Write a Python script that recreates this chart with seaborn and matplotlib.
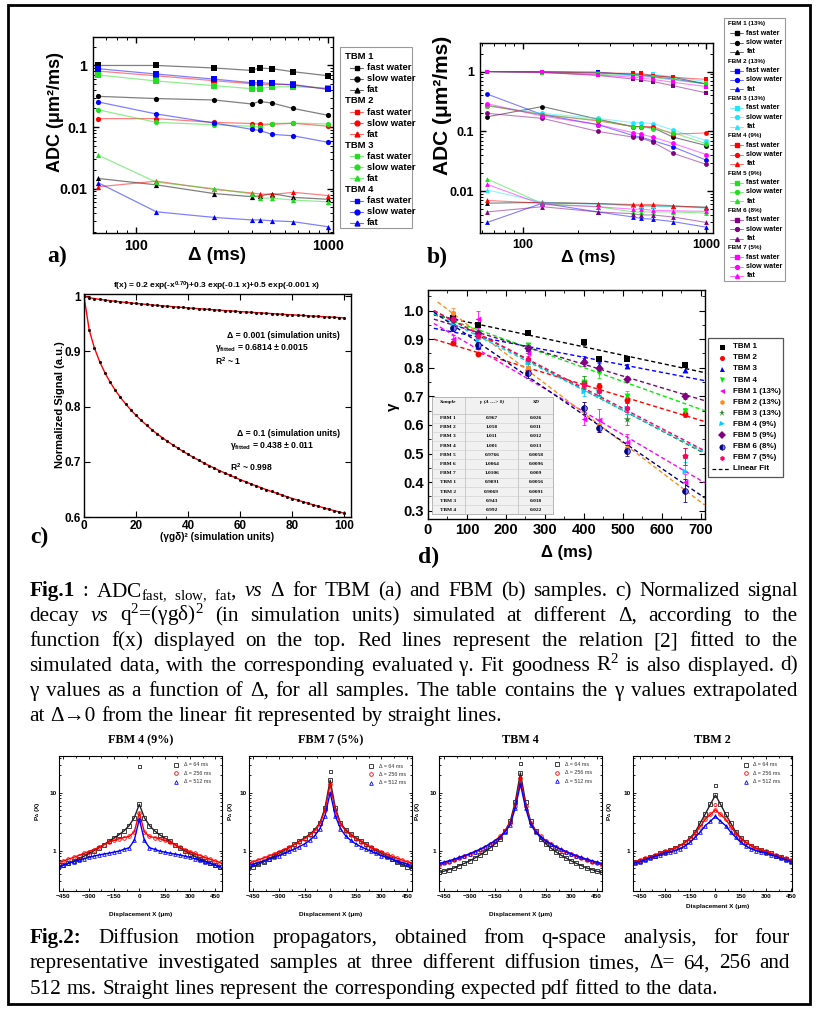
import matplotlib
matplotlib.use("Agg")
import matplotlib.pyplot as plt
import seaborn as sns
from matplotlib.lines import Line2D
from matplotlib.patches import Rectangle
from matplotlib.ticker import LogLocator, NullFormatter, MultipleLocator

sns.set_style("ticks")
plt.rcParams['font.family'] = ['Liberation Sans', 'DejaVu Sans']
plt.rcParams['font.weight'] = 'bold'
plt.rcParams['mathtext.default'] = 'regular'
plt.rcParams.update({'axes.edgecolor': 'black', 'text.color': 'black', 'xtick.color': 'black',
                     'ytick.color': 'black', 'axes.labelcolor': 'black', 'axes.linewidth': 1.0,
                     'xtick.direction': 'in', 'ytick.direction': 'in'})
SERIF = ['Liberation Serif', 'DejaVu Serif']

# ---------------- data: panel a (TBM) / b (FBM) ----------------
DELTA_ADC = [64, 128, 256, 400, 440, 512, 660, 1000]
ADC_KINDS = ["fast water", "slow water", "fat"]
ADC_MARKERS = ["s", "o", "^"]

TBM1_ADC = [[1.0, 1.0, 0.91, 0.83, 0.91, 0.885, 0.79, 0.68],
            [0.315, 0.29, 0.275, 0.237, 0.26, 0.245, 0.2, 0.155],
            [0.0146, 0.0115, 0.0083, 0.0074, 0.0076, 0.0083, 0.0072, 0.0067]]
TBM2_ADC = [[0.81, 0.68, 0.565, 0.505, 0.487, 0.492, 0.492, 0.41],
            [0.137, 0.137, 0.119, 0.114, 0.112, 0.111, 0.115, 0.103],
            [0.0107, 0.0132, 0.0097, 0.0085, 0.0082, 0.008, 0.0087, 0.0077]]
TBM3_ADC = [[0.70, 0.56, 0.47, 0.42, 0.42, 0.45, 0.45, 0.435],
            [0.19, 0.119, 0.109, 0.103, 0.10, 0.114, 0.116, 0.112],
            [0.0348, 0.0127, 0.0100, 0.0082, 0.0070, 0.0070, 0.0065, 0.0061]]
TBM4_ADC = [[0.885, 0.726, 0.60, 0.525, 0.525, 0.51, 0.48, 0.41],
            [0.255, 0.163, 0.116, 0.092, 0.088, 0.076, 0.072, 0.0565],
            [0.0124, 0.0042, 0.0034, 0.0031, 0.0031, 0.0030, 0.0029, 0.0024]]
TBM_NAMES = ["TBM 1", "TBM 2", "TBM 3", "TBM 4"]
TBM_COLORS = ["black", "red", "#22dd22", "blue"]
TBM_ADC = [TBM1_ADC, TBM2_ADC, TBM3_ADC, TBM4_ADC]

FBM1_ADC = [[1.0, 0.98, 0.95, 0.90, 0.88, 0.86, 0.80, 0.62],
            [0.175, 0.26, 0.16, 0.12, 0.12, 0.115, 0.08, 0.058],
            [0.0063, 0.0065, 0.0062, 0.0058, 0.0057, 0.0057, 0.0056, 0.0054]]
FBM2_ADC = [[1.0, 1.0, 0.98, 0.88, 0.86, 0.82, 0.75, 0.62],
            [0.42, 0.19, 0.13, 0.085, 0.08, 0.07, 0.055, 0.033],
            [0.003, 0.0063, 0.0045, 0.0037, 0.0035, 0.0034, 0.0031, 0.0025]]
FBM3_ADC = [[1.0, 0.98, 0.95, 0.88, 0.86, 0.90, 0.82, 0.68],
            [0.27, 0.20, 0.165, 0.14, 0.14, 0.135, 0.105, 0.07],
            [0.0105, 0.0065, 0.006, 0.0058, 0.0057, 0.0056, 0.0055, 0.0052]]
FBM4_ADC = [[1.0, 0.98, 0.95, 0.93, 0.93, 0.85, 0.80, 0.74],
            [0.27, 0.19, 0.15, 0.12, 0.12, 0.12, 0.09, 0.094],
            [0.007, 0.0063, 0.0062, 0.006, 0.006, 0.006, 0.0057, 0.0053]]
FBM5_ADC = [[1.0, 0.95, 0.90, 0.85, 0.82, 0.80, 0.72, 0.62],
            [0.27, 0.19, 0.155, 0.12, 0.12, 0.11, 0.095, 0.062],
            [0.016, 0.0062, 0.0055, 0.0045, 0.0045, 0.0045, 0.0045, 0.0043]]
FBM6_ADC = [[1.0, 0.97, 0.86, 0.75, 0.72, 0.68, 0.58, 0.44],
            [0.20, 0.165, 0.10, 0.08, 0.077, 0.066, 0.043, 0.028],
            [0.0045, 0.0055, 0.0045, 0.0042, 0.004, 0.004, 0.0037, 0.003]]
FBM7_ADC = [[1.0, 0.97, 0.88, 0.80, 0.78, 0.74, 0.66, 0.56],
            [0.29, 0.18, 0.13, 0.095, 0.09, 0.08, 0.063, 0.041],
            [0.013, 0.006, 0.0055, 0.005, 0.005, 0.0048, 0.0047, 0.0046]]
FBM_NAMES = ["FBM 1 (13%)", "FBM 2 (13%)", "FBM 3 (13%)", "FBM 4 (9%)",
             "FBM 5 (9%)", "FBM 6 (8%)", "FBM 7 (5%)"]
FBM_COLORS = ["black", "blue", "#22e5ff", "red", "#22dd22", "#800080", "#ff00ff"]
FBM_ADC = [FBM1_ADC, FBM2_ADC, FBM3_ADC, FBM4_ADC, FBM5_ADC, FBM6_ADC, FBM7_ADC]

# ---------------- data: panel c ----------------
Q2 = list(range(0, 101, 2))
SIG_D0001 = [1.0, 0.9974, 0.9957, 0.9943, 0.9931, 0.9919, 0.9908, 0.9897, 0.9888, 0.9878,
             0.9869, 0.9860, 0.9851, 0.9843, 0.9834, 0.9826, 0.9818, 0.9811, 0.9803, 0.9796,
             0.9788, 0.9781, 0.9774, 0.9767, 0.9760, 0.9754, 0.9747, 0.9740, 0.9734, 0.9728,
             0.9721, 0.9715, 0.9709, 0.9703, 0.9697, 0.9691, 0.9685, 0.9679, 0.9673, 0.9667,
             0.9662, 0.9656, 0.9651, 0.9645, 0.9640, 0.9634, 0.9629, 0.9623, 0.9618, 0.9613, 0.9608]
SIG_D01 = [1.0, 0.9386, 0.9062, 0.8816, 0.8616, 0.8445, 0.8297, 0.8165, 0.8047, 0.7939,
           0.7840, 0.7749, 0.7664, 0.7584, 0.7509, 0.7439, 0.7372, 0.7308, 0.7248, 0.7189,
           0.7134, 0.7081, 0.7029, 0.6980, 0.6932, 0.6886, 0.6842, 0.6798, 0.6757, 0.6716,
           0.6676, 0.6638, 0.6601, 0.6565, 0.6530, 0.6495, 0.6462, 0.6429, 0.6397, 0.6366,
           0.6335, 0.6306, 0.6277, 0.6249, 0.6221, 0.6194, 0.6167, 0.6141, 0.6116, 0.6091, 0.6067]

# ---------------- data: panel d ----------------
D_DELTA = [64, 128, 256, 400, 440, 512, 660]
D_NAMES = ["TBM 1", "TBM 2", "TBM 3", "TBM 4", "FBM 1 (13%)", "FBM 2 (13%)", "FBM 3 (13%)",
           "FBM 4 (9%)", "FBM 5 (9%)", "FBM 6 (8%)", "FBM 7 (5%)"]
D_COLORS = ["black", "red", "blue", "#00ee00", "#ff00ff", "#ff8c1a", "#2e8b2e",
            "#00ccff", "#800080", "#000080", "#ff0066"]
D_MARKERS = ["s", "o", "^", "v", "<", "h", "*", ">", "D", "o", "h"]
GAMMA_TBM1 = [0.973, 0.950, 0.921, 0.889, 0.831, 0.831, 0.810]
GAMMA_TBM2 = [0.886, 0.849, 0.793, 0.748, 0.735, 0.688, 0.639]
GAMMA_TBM3 = [0.944, 0.877, 0.870, 0.830, 0.810, 0.806, 0.793]
GAMMA_TBM4 = [0.967, 0.920, 0.878, 0.750, 0.780, 0.700, 0.650]
GAMMA_FBM1 = [0.900, 0.970, 0.850, 0.620, 0.617, 0.540, 0.400]
GAMMA_FBM2 = [0.990, 0.920, 0.800, 0.660, 0.600, 0.520, 0.490]
GAMMA_FBM3 = [0.960, 0.910, 0.820, 0.750, 0.720, 0.620, 0.490]
GAMMA_FBM4 = [0.950, 0.900, 0.820, 0.720, 0.720, 0.660, 0.440]
GAMMA_FBM5 = [0.970, 0.920, 0.870, 0.820, 0.800, 0.760, 0.700]
GAMMA_FBM6 = [0.940, 0.880, 0.780, 0.660, 0.590, 0.510, 0.370]
GAMMA_FBM7 = [0.970, 0.910, 0.830, 0.740, 0.720, 0.660, 0.490]
GAMMA_ALL = [GAMMA_TBM1, GAMMA_TBM2, GAMMA_TBM3, GAMMA_TBM4, GAMMA_FBM1, GAMMA_FBM2,
             GAMMA_FBM3, GAMMA_FBM4, GAMMA_FBM5, GAMMA_FBM6, GAMMA_FBM7]
GAMMA_ERR = [[0.008, 0.006, 0.008, 0.008, 0.006, 0.006, 0.008],
             [0.006, 0.006, 0.008, 0.010, 0.010, 0.010, 0.010],
             [0.010, 0.010, 0.010, 0.012, 0.010, 0.008, 0.008],
             [0.010, 0.010, 0.010, 0.020, 0.015, 0.020, 0.010],
             [0.015, 0.030, 0.020, 0.020, 0.040, 0.030, 0.030],
             [0.020, 0.015, 0.015, 0.020, 0.020, 0.020, 0.030],
             [0.010, 0.010, 0.015, 0.020, 0.020, 0.020, 0.030],
             [0.010, 0.010, 0.015, 0.020, 0.020, 0.020, 0.030],
             [0.008, 0.008, 0.010, 0.015, 0.015, 0.010, 0.010],
             [0.010, 0.010, 0.015, 0.020, 0.015, 0.020, 0.040],
             [0.010, 0.010, 0.010, 0.015, 0.015, 0.015, 0.030]]
FIT_X0 = [15, 15, 15, 15, 15, 25, 15, 15, 15, 15, 15]
FIT_Y0 = [0.985, 0.900, 0.938, 0.988, 0.955, 1.030, 1.000, 0.990, 0.970, 0.995, 1.000]
FIT_X1 = 710
FIT_Y1 = [0.783, 0.612, 0.755, 0.650, 0.398, 0.320, 0.500, 0.505, 0.685, 0.345, 0.510]
TABLE_SAMPLES = ["FBM 1", "FBM 2", "FBM 3", "FBM 4", "FBM 5", "FBM 6", "FBM 7",
                 "TBM 1", "TBM 2", "TBM 3", "TBM 4"]
TABLE_GAMMA0 = ["0.967", "1.058", "1.011", "1.001", "0.9766", "1.0064", "1.0106",
                "0.9891", "0.9069", "0.943", "0.992"]
TABLE_SD = ["0.026", "0.011", "0.012", "0.013", "0.0058", "0.0096", "0.009",
            "0.0056", "0.0091", "0.018", "0.022"]

# ---------------- data: Fig.2 propagators (X >= 0, symmetric) ----------------
PROP_X_HALF = [0, 30, 60, 90, 120, 150, 180, 210, 240, 270, 300, 330, 360, 390, 420, 450, 480]
PROP_TITLES = ["FBM 4 (9%)", "FBM 7 (5%)", "TBM 4", "TBM 2"]
PROP_LABELS = ["Δ = 64 ms", "Δ = 256 ms", "Δ = 512 ms"]
PROP_COLORS = ["#222222", "red", "blue"]
PROP_MARKERS = ["s", "o", "^"]
FBM4_P = [[6.3, 3.7, 2.7, 2.2, 1.88, 1.65, 1.45, 1.27, 1.11, 0.99, 0.88, 0.79, 0.72, 0.66, 0.60, 0.56, 0.52],
          [4.5, 2.1, 1.75, 1.68, 1.6, 1.5, 1.39, 1.26, 1.14, 1.04, 0.96, 0.89, 0.82, 0.76, 0.71, 0.66, 0.62],
          [3.5, 1.5, 1.12, 1.05, 0.98, 0.94, 0.90, 0.87, 0.84, 0.80, 0.76, 0.72, 0.68, 0.64, 0.60, 0.56, 0.52]]
FBM7_P = [[16.5, 5.5, 3.0, 2.3, 1.9, 1.65, 1.45, 1.28, 1.12, 1.0, 0.9, 0.8, 0.72, 0.64, 0.58, 0.53, 0.5],
          [14.0, 5.0, 2.9, 2.2, 1.85, 1.6, 1.42, 1.27, 1.14, 1.04, 0.95, 0.87, 0.8, 0.74, 0.69, 0.64, 0.61],
          [10.0, 4.0, 2.4, 1.8, 1.5, 1.3, 1.17, 1.06, 0.97, 0.89, 0.82, 0.76, 0.71, 0.66, 0.62, 0.58, 0.55]]
TBM4_P = [[22.0, 7.0, 3.2, 2.2, 1.6, 1.3, 1.1, 0.95, 0.83, 0.74, 0.66, 0.6, 0.55, 0.5, 0.47, 0.44, 0.42],
          [18.0, 6.0, 3.0, 2.2, 1.75, 1.48, 1.3, 1.15, 1.03, 0.94, 0.86, 0.79, 0.73, 0.68, 0.64, 0.6, 0.57],
          [14.0, 5.5, 2.8, 2.1, 1.72, 1.47, 1.3, 1.16, 1.05, 0.96, 0.88, 0.82, 0.76, 0.71, 0.67, 0.63, 0.6]]
TBM2_P = [[9.1, 6.3, 4.3, 3.0, 2.1, 1.65, 1.4, 1.22, 1.1, 1.02, 0.96, 0.89, 0.82, 0.77, 0.72, 0.67, 0.63],
          [5.05, 4.2, 3.5, 2.6, 2.0, 1.6, 1.38, 1.22, 1.1, 1.03, 0.97, 0.9, 0.84, 0.78, 0.73, 0.68, 0.64],
          [3.9, 3.2, 2.7, 2.1, 1.7, 1.39, 1.2, 1.08, 1.0, 0.95, 0.91, 0.85, 0.79, 0.74, 0.69, 0.64, 0.61]]
PROP_ALL = [FBM4_P, FBM7_P, TBM4_P, TBM2_P]
PEAK_OUT_64 = [28.5, 23.5, 32.0, 13.4]
PEAK_OUT_256_TBM2 = 6.1

# ---------------- figure helpers ----------------
W, H = 818, 1013
fig = plt.figure(figsize=(W / 100, H / 100), dpi=100)
renderer = fig.canvas.get_renderer()


def axes_px(l, t, r, b):
    return fig.add_axes([l / W, 1 - b / H, (r - l) / W, (b - t) / H])


def fy(y):
    return 1 - y / H


def ftext(x, y, s, **kw):
    kw.setdefault('va', 'center')
    return fig.text(x / W, fy(y), s, **kw)


def fline(x0, x1, y, **kw):
    fig.add_artist(Line2D([x0 / W, x1 / W], [fy(y), fy(y)], transform=fig.transFigure, **kw))


def fvline(x, y0, y1, **kw):
    fig.add_artist(Line2D([x / W, x / W], [fy(y0), fy(y1)], transform=fig.transFigure, **kw))


def fmarker(x, y, **kw):
    fig.add_artist(Line2D([x / W], [fy(y)], transform=fig.transFigure, ls='none', **kw))


def frect(x0, y0, x1, y1, **kw):
    fig.add_artist(Rectangle((x0 / W, fy(y1)), (x1 - x0) / W, (y1 - y0) / H,
                             transform=fig.transFigure, **kw))


def style_log(ax, xlim, ylim, fs):
    ax.set_xlim(*xlim)
    ax.set_ylim(*ylim)
    ax.set_xticks([100, 1000], ['100', '1000'])
    ax.set_yticks([0.01, 0.1, 1], ['0.01', '0.1', '1'])
    ax.xaxis.set_minor_locator(LogLocator(base=10, subs=range(2, 10), numticks=20))
    ax.yaxis.set_minor_locator(LogLocator(base=10, subs=range(2, 10), numticks=20))
    ax.xaxis.set_minor_formatter(NullFormatter())
    ax.yaxis.set_minor_formatter(NullFormatter())
    ax.tick_params(which='both', direction='in', top=True, right=True)
    ax.tick_params(which='major', length=4, width=1, labelsize=fs, pad=4)
    ax.tick_params(which='minor', length=2, width=0.7)
    ax.set_xlabel('')
    ax.set_ylabel('')


# ---------------- outer frame ----------------
frect(8, 5, 810, 1004, fill=False, ec='black', lw=2)

# ---------------- panel a ----------------
axA = axes_px(93, 37, 333, 233)
axA.set_xscale('log')
axA.set_yscale('log')
for color, rows in zip(TBM_COLORS, TBM_ADC):
    for mk, vals in zip(ADC_MARKERS, rows):
        sns.lineplot(x=DELTA_ADC, y=vals, ax=axA, color=color, lw=0.9, alpha=0.5)
        sns.scatterplot(x=DELTA_ADC, y=vals, ax=axA, color=color, marker=mk, s=14,
                        linewidth=0, zorder=3)
style_log(axA, (60, 1060), (0.0019, 2.9), 10.3)
ftext(55, 112, "ADC (μm²/ms)", fontsize=13, rotation=90, ha='center')
ftext(217, 255, "Δ (ms)", fontsize=13.5, ha='center')
ftext(57, 256, "a)", fontsize=17, family=SERIF, ha='center')

frect(340, 47, 412, 228, fill=False, ec='#999999', lw=0.8)
row = 0
for name, color in zip(TBM_NAMES, TBM_COLORS):
    ftext(345, 56.7 + row * 11.07, name, fontsize=6.8)
    row += 1
    for kind, mk in zip(ADC_KINDS, ADC_MARKERS):
        y = 56.7 + row * 11.07
        fline(350, 363, y, color=color, lw=0.8, alpha=0.6)
        fmarker(356.5, y, marker=mk, color=color, ms=3.5)
        ftext(367, y, kind, fontsize=6.8)
        row += 1

# ---------------- panel b ----------------
axB = axes_px(480, 43, 713, 233)
axB.set_xscale('log')
axB.set_yscale('log')
for color, rows in zip(FBM_COLORS, FBM_ADC):
    for mk, vals in zip(ADC_MARKERS, rows):
        sns.lineplot(x=DELTA_ADC, y=vals, ax=axB, color=color, lw=0.8, alpha=0.5)
        sns.scatterplot(x=DELTA_ADC, y=vals, ax=axB, color=color, marker=mk, s=12,
                        linewidth=0, zorder=3)
style_log(axB, (58.5, 1088), (0.002, 3.0), 9)
ftext(442, 105, "ADC (μm²/ms)", fontsize=15, rotation=90, ha='center')
ftext(588, 257, "Δ (ms)", fontsize=12.5, ha='center')
ftext(437, 257, "b)", fontsize=17, family=SERIF, ha='center')

frect(724, 18, 785, 281, fill=False, ec='#999999', lw=0.8)
row = 0
for name, color in zip(FBM_NAMES, FBM_COLORS):
    ftext(728, 24 + row * 9.33, name, fontsize=4.5)
    row += 1
    for kind, mk in zip(ADC_KINDS, ADC_MARKERS):
        y = 24 + row * 9.33
        fline(730, 743, y, color=color, lw=0.7, alpha=0.6)
        fmarker(736.5, y, marker=mk, color=color, ms=2.8)
        ftext(746.5, y, kind, fontsize=5.1)
        row += 1

# ---------------- panel c ----------------
axC = axes_px(84, 294, 351, 517)
for vals in (SIG_D0001, SIG_D01):
    sns.lineplot(x=Q2, y=vals, ax=axC, color='red', lw=1.0)
    sns.scatterplot(x=Q2, y=vals, ax=axC, color='#200000', s=5, linewidth=0, zorder=3)
axC.set_xlim(0, 102.5)
axC.set_ylim(0.6, 1.004)
axC.set_xticks([0, 20, 40, 60, 80, 100])
axC.set_yticks([0.6, 0.7, 0.8, 0.9, 1.0], ['0.6', '0.7', '0.8', '0.9', '1'])
axC.tick_params(which='both', direction='in', top=True, right=True, length=4, labelsize=8.5, pad=2)
axC.set_xlabel('')
axC.set_ylabel('')
ftext(217, 286, "f(x) = 0.2 exp(-x$^{0.70}$)+0.3 exp(-0.1 x)+0.5 exp(-0.001 x)",
      fontsize=6, ha='center')
ftext(340, 335, "Δ = 0.001 (simulation units)", fontsize=6.2, ha='right')
ftext(215, 348, "γ$_{fitted}$ = 0.6814 ± 0.0015", fontsize=6.2, ha='left')
ftext(215, 361, "R$^{2}$ ~ 1", fontsize=6.2, ha='left')
ftext(340, 433, "Δ = 0.1 (simulation units)", fontsize=6.2, ha='right')
ftext(230, 446, "γ$_{fitted}$ = 0.438 ± 0.011", fontsize=6.2, ha='left')
ftext(230, 467, "R$^{2}$ ~ 0.998", fontsize=6.2, ha='left')
ftext(60, 405, "Normalized Signal (a.u.)", fontsize=8, rotation=90, ha='center')
ftext(217, 537, "(γgδ)² (simulation units)", fontsize=7.2, ha='center')
ftext(39, 537, "c)", fontsize=17, family=SERIF, ha='center')

# ---------------- panel d ----------------
axD = axes_px(428, 290, 705, 519)
for i, (name, color, mk, vals, err) in enumerate(zip(D_NAMES, D_COLORS, D_MARKERS, GAMMA_ALL, GAMMA_ERR)):
    sns.lineplot(x=[FIT_X0[i], FIT_X1], y=[FIT_Y0[i], FIT_Y1[i]], ax=axD, color=color,
                 lw=1.0, dashes=False, linestyle=(0, (3, 2)))
    axD.errorbar(D_DELTA, vals, yerr=err, fmt='none', ecolor=color, elinewidth=0.7,
                 capsize=1.5, capthick=0.7, alpha=0.8, zorder=3)
    if name == "FBM 6 (8%)":
        axD.plot(D_DELTA, vals, ls='none', marker='o', ms=4.2, fillstyle='left', mfc=color,
                 mfcalt='#7777ff', mec=color, mew=0.5, zorder=4)
    else:
        sns.scatterplot(x=D_DELTA, y=vals, ax=axD, color=color, marker=mk,
                        s=30 if mk == '*' else 18, linewidth=0, zorder=4)
axD.set_xlim(0, 711)
axD.set_ylim(0.271, 1.072)
axD.set_xticks(range(0, 701, 100))
axD.set_yticks([0.3, 0.4, 0.5, 0.6, 0.7, 0.8, 0.9, 1.0])
axD.yaxis.set_major_formatter(matplotlib.ticker.FormatStrFormatter('%.1f'))
axD.xaxis.set_minor_locator(MultipleLocator(50))
axD.yaxis.set_minor_locator(MultipleLocator(0.05))
axD.tick_params(which='both', direction='in', top=True, right=True)
axD.tick_params(which='major', length=4, labelsize=10.5, pad=3)
axD.tick_params(which='minor', length=2)
axD.set_xlabel('')
axD.set_ylabel('')
ftext(393, 407, "γ", fontsize=11, rotation=90, ha='center')
ftext(567, 552, "Δ (ms)", fontsize=12, ha='center')
ftext(429, 557, "d)", fontsize=17, family=SERIF, ha='center')

# legend d
frect(708, 338, 783, 477, fill=False, ec='#555555', lw=0.9)
for i, (name, color, mk) in enumerate(zip(D_NAMES, D_COLORS, D_MARKERS)):
    y = 346.7 + i * 11.1
    if name == "FBM 6 (8%)":
        fmarker(721.7, y, marker='o', ms=3.8, fillstyle='left', mfc=color, mfcalt='#7777ff',
                mec=color, mew=0.5)
    else:
        fmarker(721.7, y, marker=mk, color=color, ms=4.6 if mk == '*' else 3.6, mew=0)
    ftext(732.7, y, name, fontsize=5.8)
yl = 346.7 + 11 * 11.1
fline(711.7, 730, yl, color='black', lw=0.9, linestyle=(0, (3, 2)))
ftext(732.7, yl, "Linear Fit", fontsize=5.8)

# table d
frect(431.7, 397.3, 553.3, 514, fc='#f1f1f1', ec='#aaaaaa', lw=0.6, zorder=5)
for xv in (465, 518):
    fvline(xv, 397.3, 514, color='#bbbbbb', lw=0.5, zorder=6)
fline(431.7, 553.3, 413.5, color='#bbbbbb', lw=0.5, zorder=6)
for xc, head in zip((448, 491.7, 536), ("Sample", "γ (Δ ---> 0)", "SD")):
    ftext(xc, 402, head, fontsize=3.9, family=SERIF, style='italic', ha='center', zorder=7)
for i, (s, g, sd) in enumerate(zip(TABLE_SAMPLES, TABLE_GAMMA0, TABLE_SD)):
    y = 418 + i * 9.2
    if i < 10:
        fline(431.7, 553.3, y + 4.6, color='#cccccc', lw=0.4, zorder=6)
    ftext(448, y, s, fontsize=3.9, family=SERIF, ha='center', zorder=7)
    ftext(491.7, y, g, fontsize=3.9, family=SERIF, ha='center', zorder=7)
    ftext(536, y, sd, fontsize=3.9, family=SERIF, ha='center', zorder=7)

# ---------------- Fig.2 propagator panels ----------------
PROP_BOXES = [(59, 222), (249, 412), (439, 602), (633, 792)]
PROP_XLIMS = [(-476, 490), (-475, 479), (-480, 481), (-490, 455)]
PROP_LEG = [(176, 184, 765), (371, 379, 766), (557, 565, 764.5), (746, 753, 765)]
PROP_YLAB_X = [38, 230, 418, 610]
full_x = [-v for v in PROP_X_HALF[:0:-1]] + PROP_X_HALF
for k, (box, xl, series) in enumerate(zip(PROP_BOXES, PROP_XLIMS, PROP_ALL)):
    ax = axes_px(box[0], 756, box[1], 891)
    ax.set_yscale('log')
    for vals, color, mk in zip(series, PROP_COLORS, PROP_MARKERS):
        full_y = vals[:0:-1] + vals
        sns.lineplot(x=full_x, y=full_y, ax=ax, color=color, lw=1.0, marker=mk, markersize=2.6,
                     markerfacecolor='none', markeredgecolor=color, markeredgewidth=0.6)
    sns.scatterplot(x=[0], y=[PEAK_OUT_64[k]], ax=ax, marker='s', s=5, facecolor='none',
                    edgecolor=PROP_COLORS[0], linewidth=0.6)
    if k == 3:
        sns.scatterplot(x=[0], y=[PEAK_OUT_256_TBM2], ax=ax, marker='o', s=5, facecolor='none',
                        edgecolor='red', linewidth=0.6)
    ax.set_xlim(*xl)
    ax.set_ylim(0.2, 43)
    ax.set_xticks([-450, -300, -150, 0, 150, 300, 450])
    ax.xaxis.set_minor_locator(MultipleLocator(75))
    ax.set_yticks([1, 10], ['1', '10'])
    ax.yaxis.set_minor_locator(LogLocator(base=10, subs=range(2, 10), numticks=20))
    ax.yaxis.set_minor_formatter(NullFormatter())
    ax.tick_params(which='both', direction='in', top=True, right=True, width=0.6)
    ax.tick_params(which='major', length=2.5, labelsize=4.6, pad=2)
    ax.tick_params(which='minor', length=1.3)
    for sp in ax.spines.values():
        sp.set_linewidth(0.8)
    ax.set_xlabel('')
    ax.set_ylabel('')
    cx = (box[0] + box[1]) / 2
    ftext(cx, 740, PROP_TITLES[k], fontsize=8.7, family=SERIF, ha='center')
    ftext(PROP_YLAB_X[k], 811, "P$_{Δ}$ (X)", fontsize=4.6, rotation=90, ha='center')
    if k == 3:
        ftext(718, 906, "Displacement X (μm)", fontsize=4.6, ha='center')
    else:
        ftext(cx, 914, "Displacement X (μm)", fontsize=4.6, ha='center')
    mx, tx, y0 = PROP_LEG[k]
    for j, (lab, color, mk) in enumerate(zip(PROP_LABELS, PROP_COLORS, PROP_MARKERS)):
        yy = y0 + j * 8.4
        fmarker(mx, yy, marker=mk, ms=2.6, mfc='none', mec=color, mew=0.6)
        ftext(tx, yy, lab, fontsize=3.9, fontweight='normal', color='#333333')

# ---------------- captions (justified) ----------------
N = {'fontweight': 'normal'}
B = {'fontweight': 'bold'}
I = {'fontweight': 'normal', 'style': 'italic'}


def words(s, st=None):
    return [(w, st or N) for w in s.split()]


def tw(s, size, st):
    t = fig.text(0, 0, s, fontsize=size, family=SERIF, **st)
    w = t.get_window_extent(renderer).width
    t.remove()
    return w


def caption_line(tokens, y, x0, x1, size, justify=True):
    ws = [tw(s, size, st) for s, st in tokens]
    if justify:
        gap = (x1 - x0 - sum(ws)) / (len(tokens) - 1)
    else:
        gap = tw("x x", size, N) - tw("xx", size, N)
    x = x0
    for (s, st), w in zip(tokens, ws):
        fig.text(x / W, fy(y), s, fontsize=size, family=SERIF, va='baseline', ha='left', **st)
        x += w + gap


L1 = [("Fig.1", B), (":", N), ("ADC$_{fast,\\ slow,\\ fat}$,", N), ("vs", I), ("Δ", N)] + \
    words("for TBM (a) and FBM (b) samples. c) Normalized signal")
L2 = [("decay", N), ("vs", I), ("q$^{2}$=(γgδ)$^{2}$", N)] + \
    words("(in simulation units) simulated at different Δ, according to the")
L3 = words("function f(x) displayed on the top. Red lines represent the relation [2] fitted to the")
L4 = words("simulated data, with the corresponding evaluated γ. Fit goodness R$^{2}$ is also displayed. d)")
L5 = words("γ values as a function of Δ, for all samples. The table contains the γ values extrapolated")
L6 = words("at Δ→0 from the linear fit represented by straight lines.")
size1 = 14 * 473 / tw(" ".join(s for s, _ in L6), 14, N)
for toks, yb in zip([L1, L2, L3, L4, L5], [596, 621, 646, 670.8, 695.8]):
    caption_line(toks, yb, 29.5, 798, size1)
caption_line(L6, 720.7, 29.5, 798, size1, justify=False)

F1 = [("Fig.2:", B)] + words("Diffusion motion propagators, obtained from q-space analysis, for four")
F2 = words("representative investigated samples at three different diffusion times, Δ= 64, 256 and")
F3 = words("512 ms. Straight lines represent the corresponding expected pdf fitted to the data.")
size2 = 14 * 692 / tw(" ".join(s for s, _ in F3), 14, N)
caption_line(F1, 942.7, 30, 790, size2)
caption_line(F2, 968.3, 30, 790, size2)
caption_line(F3, 994.3, 30, 790, size2, justify=False)

fig.savefig("out.png", dpi=100)
